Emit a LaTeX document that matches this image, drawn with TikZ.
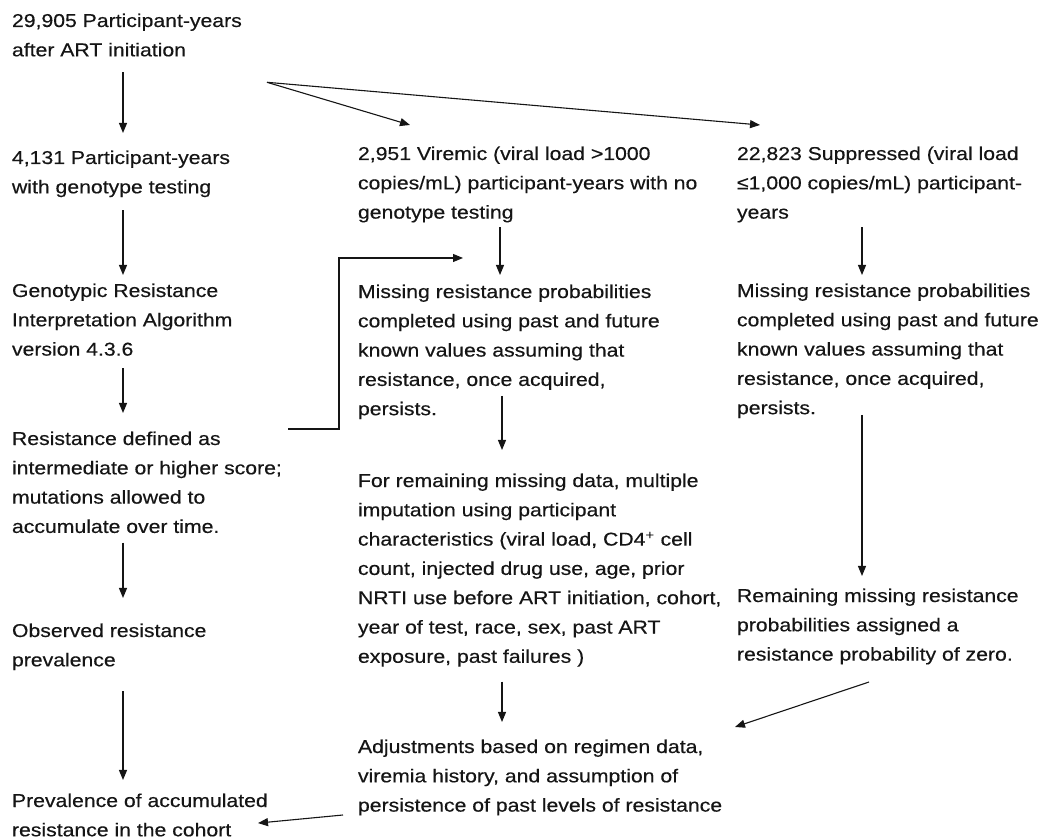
\documentclass[tikz,border=0pt]{standalone}
\usepackage{fontspec}
\setmainfont{Liberation Sans}[FakeStretch=1.14,FakeBold=0.4]
\usetikzlibrary{arrows.meta,calc}
\definecolor{ink}{HTML}{151515}
\newcommand\ml[1]{\begin{tabular}[t]{@{}l@{}}#1\end{tabular}}
\begin{document}
\begin{tikzpicture}[x=1pt,y=-1pt,
  txt/.style={anchor=base west, inner sep=0pt, outer sep=0pt, font=\fontsize{18.6}{29.3}\selectfont, text=ink},
  arr/.style={draw=ink, line width=1.1pt, -{Triangle[length=10pt,width=8pt]}},
  ln/.style={draw=ink, line width=1.1pt}]
\useasboundingbox (0,0) rectangle (1042,840);
% column guides
\coordinate (c1) at (123,0);
\coordinate (c2) at (500,0);
\coordinate (c2b) at (502,0);
\coordinate (c3) at (862,0);
% column 1
\node[txt] (n1) at (12,27) {\ml{29,905 Participant-years\\after ART initiation}};
\node[txt] (n2) at (12,164) {\ml{4,131 Participant-years\\with genotype testing}};
\node[txt] (n3) at (12,297) {\ml{Genotypic Resistance\\Interpretation Algorithm\\version 4.3.6}};
\node[txt] (n4) at (12,445) {\ml{Resistance defined as\\intermediate or higher score;\\mutations allowed to\\accumulate over time.}};
\node[txt] (n5) at (12,637) {\ml{Observed resistance\\prevalence}};
\node[txt] (n6) at (12,807) {\ml{Prevalence of accumulated\\resistance in the cohort}};
% column 2
\node[txt] (n7) at (358,160) {\ml{2,951 Viremic (viral load >1000\\copies/mL) participant-years with no\\genotype testing}};
\node[txt] (n8) at (358,298) {\ml{Missing resistance probabilities\\completed using past and future\\known values assuming that\\resistance, once acquired,\\persists.}};
\node[txt] (n9) at (358,487) {\ml{For remaining missing data, multiple\\imputation using participant\\characteristics (viral load, CD4\textsuperscript{+} cell\\count, injected drug use, age, prior\\NRTI use before ART initiation, cohort,\\year of test, race, sex, past ART\\exposure, past failures )}};
\node[txt] (n10) at (358,753) {\ml{Adjustments based on regimen data,\\viremia history, and assumption of\\persistence of past levels of resistance}};
% column 3
\node[txt] (n11) at (737,160) {\ml{22,823 Suppressed (viral load\\≤1,000 copies/mL) participant-\\years}};
\node[txt] (n12) at (737,297) {\ml{Missing resistance probabilities\\completed using past and future\\known values assuming that\\resistance, once acquired,\\persists.}};
\node[txt] (n13) at (737,602) {\ml{Remaining missing resistance\\probabilities assigned a\\resistance probability of zero.}};
% connectors column 1
\draw[arr, shorten <=7pt, shorten >=10.5pt] (n1.south west -| c1) -- (n2.north west -| c1);
\draw[arr, shorten <=8pt, shorten >=1.5pt] (n2.south west -| c1) -- (n3.north west -| c1);
\draw[arr, shorten <=4pt, shorten >=11.5pt] (n3.south west -| c1) -- (n4.north west -| c1);
\draw[arr, shorten <=1pt, shorten >=18.5pt] (n4.south west -| c1) -- (n5.north west -| c1);
\draw[arr, shorten <=16pt, shorten >=6.5pt] (n5.south west -| c1) -- (n6.north west -| c1);
\draw[arr] ([shift={(-15,-5.4)}]n10.south west) -- ([shift={(246,-22)}]n6.south west);
% split from n1
\coordinate (split) at ([shift={(255,17.2)}]n1.south west);
\draw[arr] (split) -- ([shift={(52,-14.5)}]n7.north west);
\draw[arr] (split) -- ([shift={(23,-14.5)}]n11.north west);
% column 2
\draw[arr, shorten >=2.5pt] (n7.south west -| c2) -- (n8.north west -| c2);
\draw[arr] ([shift={(276,4.5)}]n4.north west) -| ([shift={(-19,-19.5)}]n8.north west) -- ([shift={(105,-19.5)}]n8.north west);
\draw[arr, shorten >=16.5pt] ([shift={(0,-28)}]n8.south west -| c2b) -- (n9.north west -| c2b);
\draw[arr, shorten <=10pt, shorten >=10.5pt] (n9.south west -| c2b) -- (n10.north west -| c2b);
% column 3
\draw[arr, shorten >=1.5pt] (n11.south west -| c3) -- (n12.north west -| c3);
\draw[arr, shorten >=5.5pt] ([shift={(0,-8)}]n12.south west -| c3) -- (n13.north west -| c3);
\draw[arr] ([shift={(132,12.6)}]n13.south west) -- ([shift={(377,-5.5)}]n10.north west);
\end{tikzpicture}
\end{document}
